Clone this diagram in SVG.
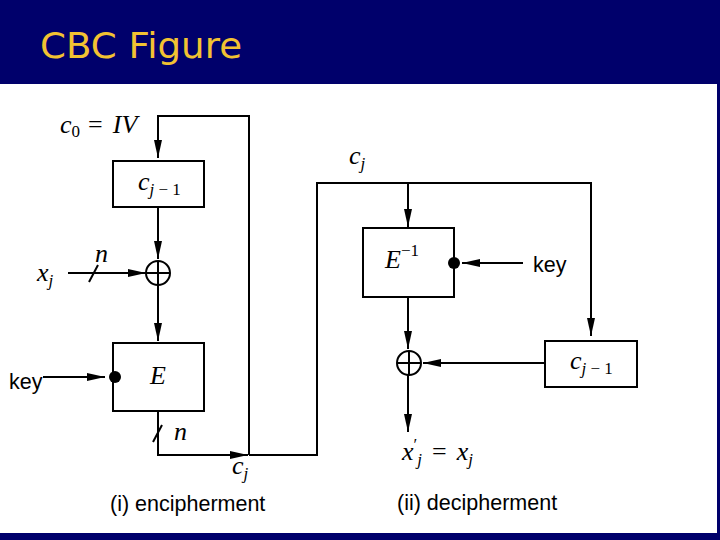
<svg xmlns="http://www.w3.org/2000/svg" width="720" height="540" viewBox="0 0 720 540">
<defs>
<marker id="ahl" viewBox="0 0 18 10" refX="18" refY="5" markerWidth="18" markerHeight="10" markerUnits="userSpaceOnUse" orient="auto"><path d="M0,1 L18,5 L0,9 Z" fill="#000"/></marker>
</defs>
<style>
.bg{fill:#00006B}
.title{font-family:"Comic Sans MS","DejaVu Sans",sans-serif;font-size:36px;fill:#F2C232}
.box{fill:#fff;stroke:#000;stroke-width:2}
.ln{fill:none;stroke:#000;stroke-width:2}
.m{font-family:"Liberation Serif",serif;font-style:italic;font-size:26px;fill:#000}
.r{font-family:"Liberation Serif",serif;font-style:normal;font-size:26px;fill:#000}
.sub{font-size:17px}
.s{font-family:"Liberation Sans",Arial,sans-serif;font-size:21.5px;fill:#000}
</style>
<rect x="0" y="0" width="720" height="540" fill="#fff"/>
<rect class="bg" x="0" y="0" width="720" height="84"/>
<rect class="bg" x="0" y="533" width="720" height="7"/>
<rect class="bg" x="717" y="84" width="3" height="449"/>
<text class="title" x="40" y="58" textLength="202" lengthAdjust="spacingAndGlyphs">CBC Figure</text>

<g id="connectors">
<path class="ln" d="M249,455 V116 H158 V158" marker-end="url(#ahl)"/>
<path class="ln" d="M158,207 V259" marker-end="url(#ahl)"/>
<path class="ln" d="M68,273 H146" marker-end="url(#ahl)"/>
<path class="ln" d="M89,282 L98,265"/>
<path class="ln" d="M158,285 V341" marker-end="url(#ahl)"/>
<path class="ln" d="M43,377 H105" marker-end="url(#ahl)"/>
<path class="ln" d="M158,411 V455 H248" marker-end="url(#ahl)"/>
<path class="ln" d="M153,442 L162,425"/>
<path class="ln" d="M249,455 H317 V183 H591 V336" marker-end="url(#ahl)"/>
<path class="ln" d="M408,183 V227" marker-end="url(#ahl)"/>
<path class="ln" d="M523,263 H462" marker-end="url(#ahl)"/>
<path class="ln" d="M408,297 V349" marker-end="url(#ahl)"/>
<path class="ln" d="M545,363 H423" marker-end="url(#ahl)"/>
<path class="ln" d="M408,375 V432" marker-end="url(#ahl)"/>
</g>

<g id="label-iv"><text class="m" x="60" y="133">c<tspan class="sub" font-style="normal" dy="4">0</tspan><tspan class="r" dx="8" dy="-4">=</tspan><tspan dx="10">IV</tspan></text></g>

<g id="cprev-enc">
<rect class="box" x="113" y="161" width="91" height="46"/>
<text class="m" x="138" y="190">c<tspan class="sub" dy="5">j</tspan><tspan class="sub" font-style="normal"> − 1</tspan></text>
</g>

<g id="xor-enc">
<circle cx="158" cy="273" r="12" fill="#fff" stroke="#000" stroke-width="2"/>
<path class="ln" d="M146,273 H170 M158,261 V285"/>
</g>

<g id="label-xj"><text class="m" x="37" y="281">x<tspan class="sub" dy="5">j</tspan></text></g>
<g id="label-n1"><text class="m" x="95" y="262">n</text></g>

<g id="enc">
<rect class="box" x="113" y="343" width="91" height="68"/>
<text class="m" x="150" y="384" font-size="29">E</text>
<circle cx="115" cy="377" r="6" fill="#000"/>
</g>
<g id="key-enc"><text class="s" x="9" y="389">key</text></g>
<g id="label-n2"><text class="m" x="174" y="440">n</text></g>
<g id="label-cj1"><text class="m" x="232" y="474">c<tspan class="sub" dy="5">j</tspan></text></g>
<g id="cap-enc"><text class="s" x="110" y="511">(i) encipherment</text></g>

<g id="label-cj2"><text class="m" x="349" y="164">c<tspan class="sub" dy="5">j</tspan></text></g>

<g id="dec">
<rect class="box" x="363" y="228" width="91" height="69"/>
<text class="m" x="385" y="268" font-size="29">E<tspan class="sub" font-style="normal" dy="-12">−1</tspan></text>
<circle cx="454" cy="263" r="6" fill="#000"/>
</g>
<g id="key-dec"><text class="s" x="533" y="272">key</text></g>

<g id="cprev-dec">
<rect class="box" x="545" y="341" width="92" height="46"/>
<text class="m" x="570" y="369">c<tspan class="sub" dy="5">j</tspan><tspan class="sub" font-style="normal"> − 1</tspan></text>
</g>

<g id="xor-dec">
<circle cx="409" cy="363" r="12" fill="#fff" stroke="#000" stroke-width="2"/>
<path class="ln" d="M397,363 H421 M409,351 V375"/>
</g>

<g id="label-out"><text class="m" x="402" y="460">x<tspan class="sub" font-style="normal" dy="-10">′</tspan><tspan class="sub" dy="15">j</tspan><tspan class="r" dx="10" dy="-5">=</tspan><tspan dx="10">x</tspan><tspan class="sub" dy="5">j</tspan></text></g>
<g id="cap-dec"><text class="s" x="397" y="510">(ii) decipherment</text></g>
</svg>
